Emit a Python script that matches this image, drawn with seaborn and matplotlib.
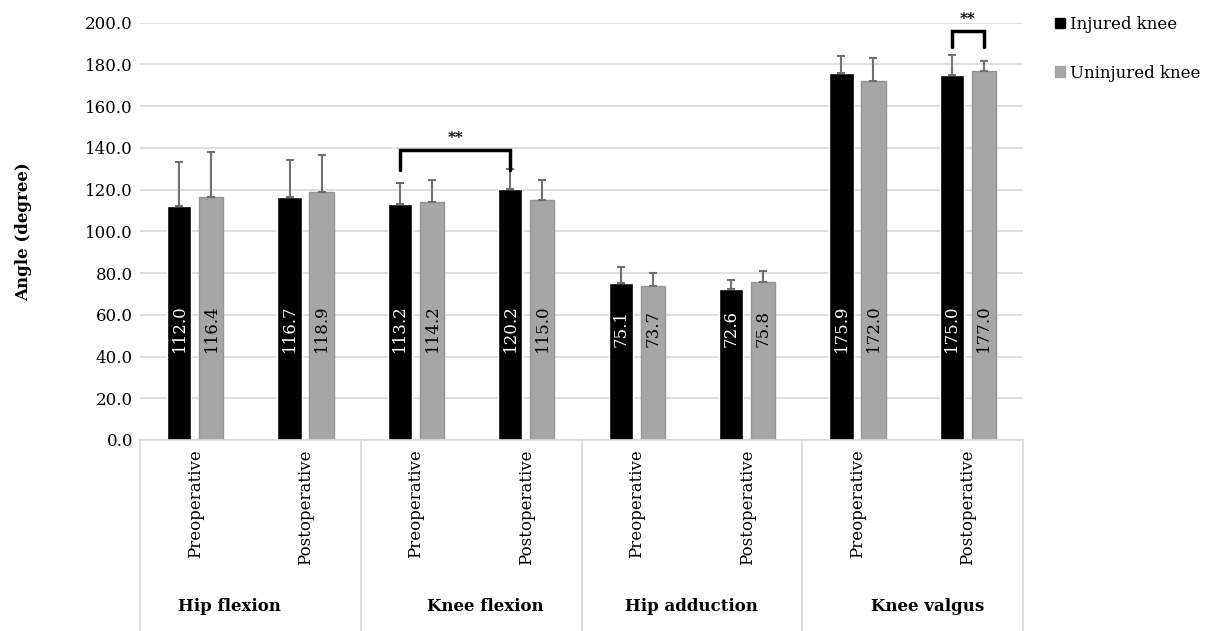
import numpy as np
import pandas as pd
import matplotlib
matplotlib.use("Agg")
import matplotlib.pyplot as plt
import matplotlib.transforms as mtransforms
from matplotlib.patches import Patch
import seaborn as sns

# --- data ---
groups = ["Hip flexion", "Knee flexion", "Hip adduction", "Knee valgus"]
phases = ["Preoperative", "Postoperative"]
series = ["Injured knee", "Uninjured knee"]

injured_mean = [112.0, 116.7, 113.2, 120.2, 75.1, 72.6, 175.9, 175.0]
uninjured_mean = [116.4, 118.9, 114.2, 115.0, 73.7, 75.8, 172.0, 177.0]
injured_sd = [21.1, 17.3, 10.1, 9.8, 7.8, 4.3, 8.0, 9.7]
uninjured_sd = [21.5, 17.8, 10.2, 9.4, 6.5, 5.2, 10.9, 4.5]

# significance brackets: (first bar, second bar, top, leg bottom)
sig_brackets = [
    ((2, 0), (3, 0), 139.0, 129.5),
    ((7, 0), (7, 1), 195.8, 188.5),
]

# --- build table ---
cond = [f"{g}|{p}" for g in groups for p in phases]
df = pd.DataFrame({
    "cond": cond * 2,
    "knee": [series[0]] * 8 + [series[1]] * 8,
    "angle": injured_mean + uninjured_mean,
})

sns.set_theme(style="white")
plt.rcParams["font.family"] = ["DejaVu Serif"]
plt.rcParams.update({"text.color": "black", "axes.labelcolor": "black",
                     "xtick.color": "black", "ytick.color": "black"})

FS = 12
black = "#000000"
grey = "#a6a6a6"
gridc = "#d9d9d9"

fig = plt.figure(figsize=(12.14, 6.31), dpi=100)
ax = fig.add_axes([140 / 1214, 1 - 440 / 631, (1023 - 140) / 1214, (440 - 22.7) / 631])

sns.barplot(data=df, x="cond", y="angle", hue="knee", order=cond, hue_order=series,
            palette=[black, grey], width=0.58, gap=0.24, errorbar=None,
            legend=False, ax=ax, zorder=2)

for p in ax.patches:
    if p.get_facecolor()[0] > 0.5:
        p.set_edgecolor("#959595")
        p.set_linewidth(1)

x = np.arange(len(cond))
off = 0.58 / 4
ax.errorbar(x - off, injured_mean, yerr=[np.zeros(8), injured_sd], fmt="none",
            ecolor="#707070", elinewidth=1.5, capsize=3, capthick=1.5, zorder=3)
ax.errorbar(x + off, uninjured_mean, yerr=[np.zeros(8), uninjured_sd], fmt="none",
            ecolor="#707070", elinewidth=1.5, capsize=3, capthick=1.5, zorder=3)

# value labels inside bars
for i in range(8):
    ax.text(x[i] - off, 53.5, f"{injured_mean[i]:.1f}", rotation=90, ha="center",
            va="center", color="white", fontsize=FS, zorder=4)
    ax.text(x[i] + off, 53.5, f"{uninjured_mean[i]:.1f}", rotation=90, ha="center",
            va="center", color="black", fontsize=FS, zorder=4)

# significance brackets
for (a, sa), (b, sb), top, leg in sig_brackets:
    xa = x[a] + (off if sa else -off)
    xb = x[b] + (off if sb else -off)
    ax.plot([xa, xa, xb, xb], [leg, top, top, leg], color="black", lw=2.5,
            clip_on=False, zorder=5, solid_joinstyle="miter")
    ax.text((xa + xb) / 2, top + 2.5, "**", ha="center", va="bottom",
            fontsize=FS - 1, fontweight="bold", clip_on=False)

ax.set_ylim(0, 200)
ax.set_xlim(-0.5, 7.5)
ax.set_yticks(np.arange(0, 201, 20))
ax.set_yticklabels([f"{v:.1f}" for v in np.arange(0, 201, 20)], fontsize=FS)
ax.yaxis.grid(True, color=gridc, lw=1.2, zorder=0)
ax.set_axisbelow(True)
ax.tick_params(axis="y", length=0, pad=5)
ax.set_ylabel("Angle (degree)", fontsize=FS, fontweight="bold", labelpad=38)

ax.set_xticks(x)
ax.set_xticklabels(phases * 4, rotation=90, fontsize=FS, va="top")
ax.tick_params(axis="x", length=0, pad=7)
ax.set_xlabel("")

for s in ["top", "right", "left"]:
    ax.spines[s].set_visible(False)
ax.spines["bottom"].set_color(gridc)
ax.spines["bottom"].set_linewidth(1.2)

# category separators and group labels below the axis
trans = mtransforms.blended_transform_factory(ax.transData, ax.transAxes)
bottom = -(631 - 440) / (440 - 22.7)
for xs in np.arange(-0.5, 8, 2):
    ax.plot([xs, xs], [0, bottom], color=gridc, lw=1.2, transform=trans, clip_on=False)
label_shift = [-0.19, 0.13, 0.0, 0.14]
for gi, g in enumerate(groups):
    ax.text(2 * gi + 0.5 + label_shift[gi], -0.40, g, transform=trans, ha="center",
            va="center", fontsize=FS, fontweight="bold")

handles = [Patch(facecolor=black, edgecolor=black), Patch(facecolor=grey, edgecolor=grey)]
fig.legend(handles, series, loc="upper left", bbox_to_anchor=(1040 / 1214, 1 - 1 / 631),
           frameon=False, fontsize=FS, handlelength=0.6, handleheight=0.6,
           handletextpad=0.3, labelspacing=1.9)

fig.savefig("out.png", dpi=100)
